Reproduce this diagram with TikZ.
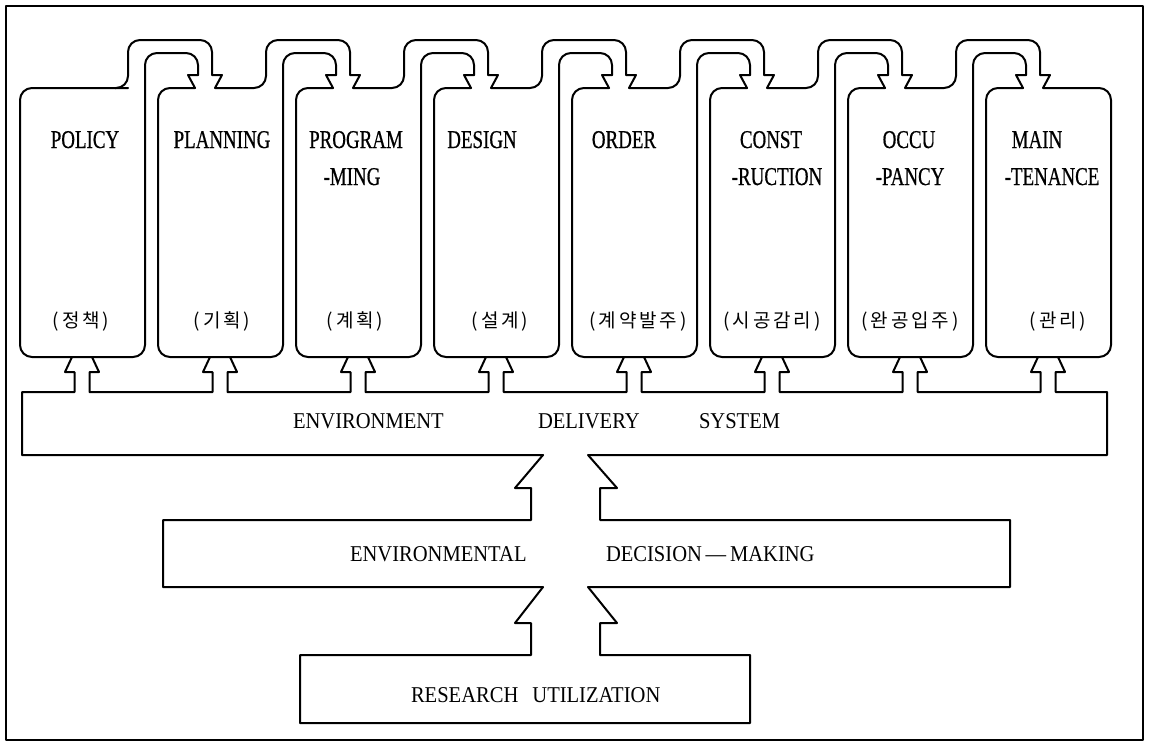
\documentclass[tikz,border=0pt]{standalone}
\usepackage{fontspec}
\setmainfont{Liberation Serif}
\newfontfamily\stagefont[FakeStretch=0.74,FakeBold=0.6]{Liberation Serif}
\newfontfamily\barfont[FakeStretch=0.91]{Liberation Serif}
\newfontfamily\korfont[LetterSpace=15]{Noto Sans CJK KR}

\begin{document}
\begin{tikzpicture}[x=0.5pt,y=-0.5pt,line width=1pt,line join=round,line cap=round,
    pipe/.style={rounded corners=6pt},
    stage/.style={font=\stagefont\fontsize{12.8}{14}\selectfont,anchor=base,inner sep=0pt},
    kor/.style={font=\korfont\fontsize{9.5}{11}\selectfont,inner sep=0pt},
    bartext/.style={font=\barfont\fontsize{11.3}{13}\selectfont,anchor=base west,inner sep=0pt}]
\useasboundingbox (0,0) rectangle (1149,744);
\draw[line width=0.9pt] (6,6) rectangle (1143,740);

% stage boxes, each with its pipe into the next one
\foreach \i in {0,...,6}{
  \pgfmathsetmacro\L{20+138*\i}
  \pgfmathsetmacro\R{\L+125}
  \pgfmathsetmacro\c{\L+185}
  \pgfmathsetmacro\X{\i==0 ? \R-17 : \L+37}
  \pgfmathsetmacro\S{\i==0 ? \R-30 : \L+57}
  \draw[pipe] (\c-7,75) -- (\c-7,53) -- (\R,53) -- (\R,357) -- (\L,357) -- (\L,88) -- (\X,88);
  \draw[pipe] (\S,88) -- (\R-17,88) -- (\R-17,40) -- (\c+7,40) -- (\c+7,75);
  \draw (\c+7,75) -- (\c+17,75) -- (\c+10,88);
  \draw (\c-10,88) -- (\c-17,75) -- (\c-7,75);
}
\draw[pipe] (1043,88) -- (1111,88) -- (1111,357) -- (986,357) -- (986,88) -- (1023,88);

% arrows up from the delivery system
\draw (72,357) -- (65,372) -- (74.5,372) -- (74.5,392) -- (22,392) -- (22,455) -- (543,455);
\foreach \i in {0,...,6}{
  \pgfmathsetmacro\u{82+138*\i}
  \pgfmathsetmacro\v{\u+138}
  \draw (\u+10,357) -- (\u+17,372) -- (\u+7.5,372) -- (\u+7.5,392) -- (\v-7.5,392)
    -- (\v-7.5,372) -- (\v-17,372) -- (\v-10,357);
}
\draw (1058,357) -- (1065,372) -- (1055.5,372) -- (1055.5,392) -- (1107,392) -- (1107,455) -- (588,455);

% decision-making
\draw (543,455) -- (515,488) -- (531,488) -- (531,520) -- (163,520) -- (163,587) -- (543,587);
\draw (588,455) -- (617,488) -- (600,488) -- (600,520) -- (1010,520) -- (1010,587) -- (588,587);

% research utilization
\draw (543,587) -- (515,623) -- (531,623) -- (531,655) -- (300,655) -- (300,723) -- (750,723)
  -- (750,655) -- (600,655) -- (600,623) -- (617,623) -- (588,587);

\node[stage] (policy) at (85,148) {POLICY};
\node[stage] (planning) at (222,148) {PLANNING};
\node[stage] (program) at (356,148) {PROGRAM};
\node[stage] (ming) at (352,185) {-MING};
\node[stage] (design) at (482,148) {DESIGN};
\node[stage] (order) at (624,148) {ORDER};
\node[stage] (const) at (771,148) {CONST};
\node[stage] (ruction) at (777,185) {-RUCTION};
\node[stage] (occu) at (909,148) {OCCU};
\node[stage] (pancy) at (910,185) {-PANCY};
\node[stage] (maint) at (1037,148) {MAIN};
\node[stage] (tenance) at (1052,185) {-TENANCE};

\node[kor] (k-policy) at (81,321) {(정책)};
\node[kor] (k-planning) at (222,321) {(기획)};
\node[kor] (k-program) at (355,321) {(계획)};
\node[kor] (k-design) at (500,321) {(설계)};
\node[kor] (k-order) at (638,321) {(계약발주)};
\node[kor] (k-const) at (772,321) {(시공감리)};
\node[kor] (k-occu) at (910,321) {(완공입주)};
\node[kor] (k-maint) at (1058,321) {(관리)};

\node[bartext] (env) at (292,428) {ENVIRONMENT};
\node[bartext] (delivery) at (537,428) {DELIVERY};
\node[bartext] (system) at (698,428) {SYSTEM};
\node[bartext] (envl) at (349,561) {ENVIRONMENTAL};
\node[bartext] (decision) at (605,561) {DECISION\,—\,MAKING};
\node[bartext] (research) at (410,702) {RESEARCH\hspace{7pt}UTILIZATION};
\end{tikzpicture}
\end{document}
